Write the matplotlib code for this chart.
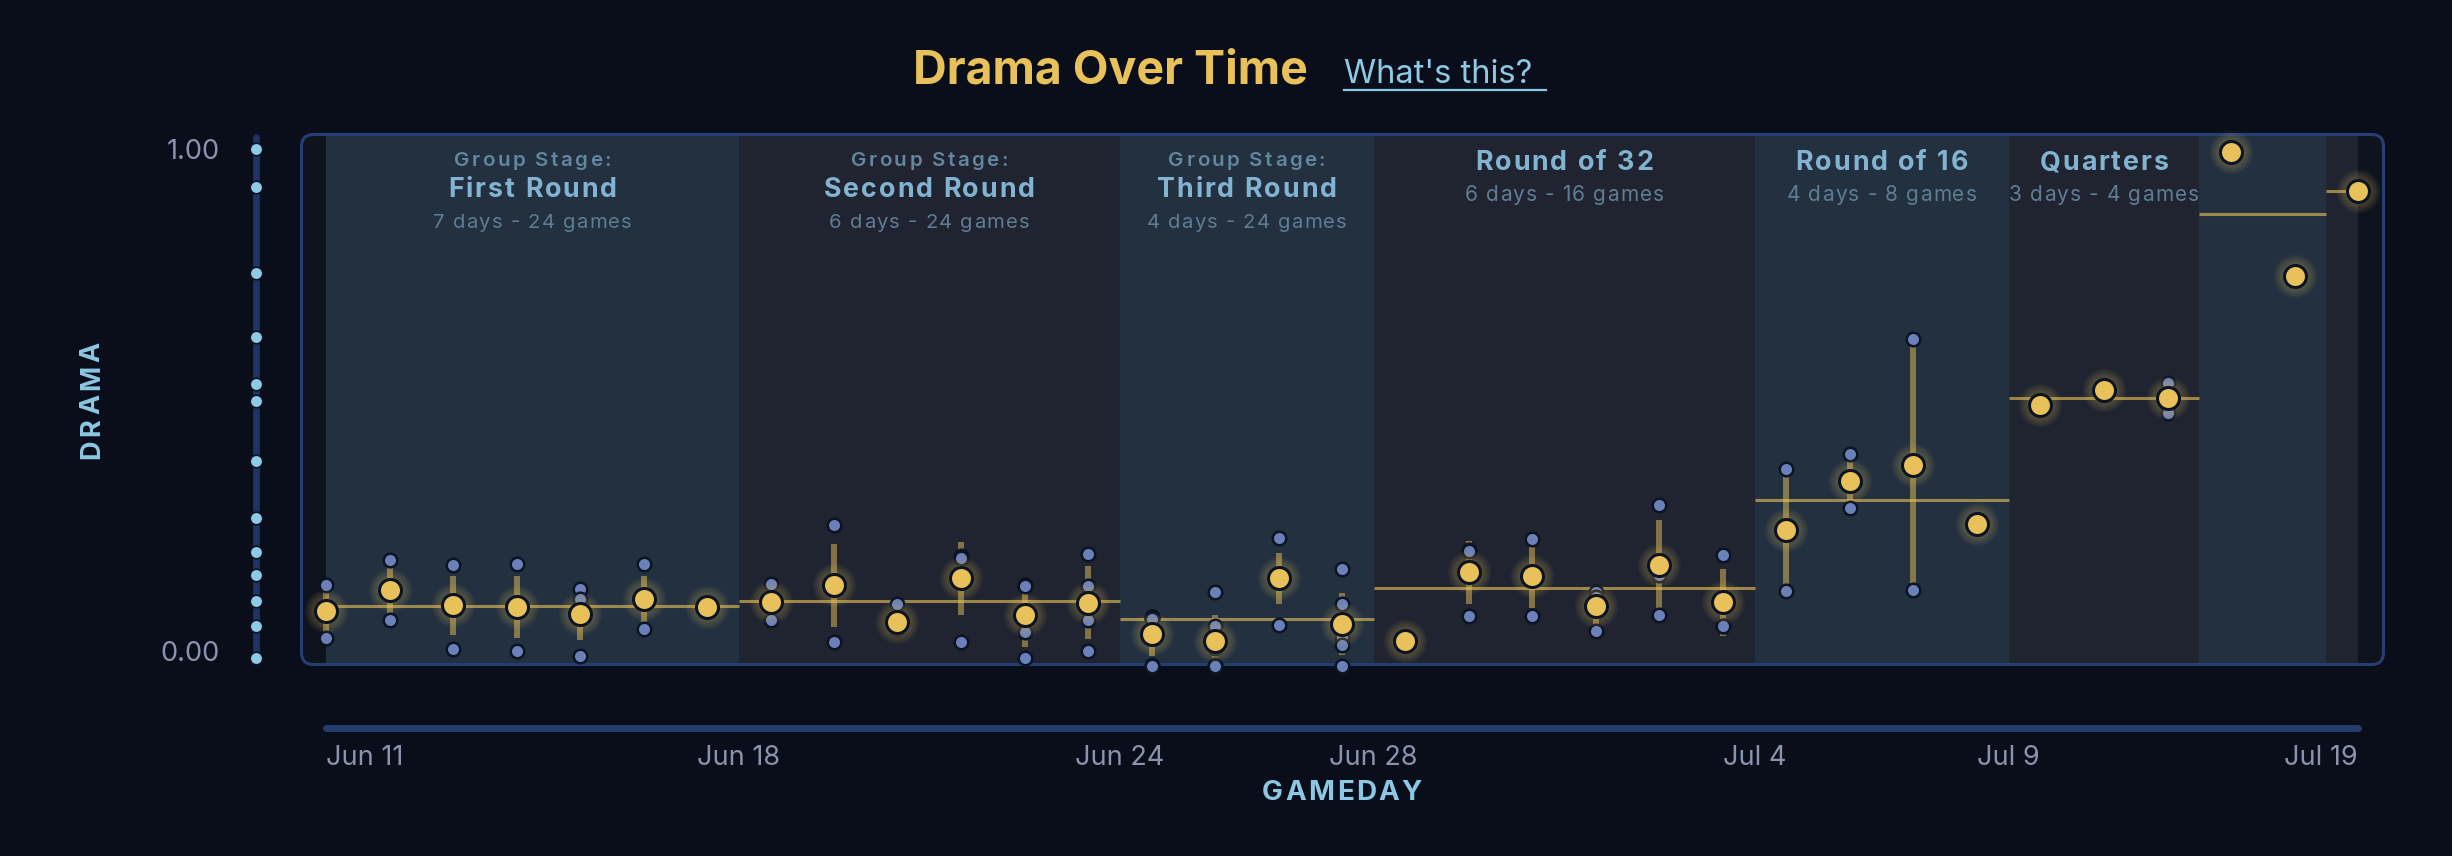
import numpy as np
import matplotlib
matplotlib.use("Agg")
import matplotlib.pyplot as plt
import matplotlib.transforms as mtransforms
from matplotlib.patches import FancyBboxPatch
from matplotlib.lines import Line2D

W, H, DPI = 2452, 856, 100

# ---------------- data ----------------
stage_kicker = ["Group Stage:", "Group Stage:", "Group Stage:", "", "", "", "", ""]
stage_title = ["First Round", "Second Round", "Third Round", "Round of 32",
               "Round of 16", "Quarters", "", ""]
stage_days = [7, 6, 4, 6, 4, 3, 2, 1]
stage_games = [24, 24, 24, 16, 8, 4, 2, 1]
stage_start_label = ["Jun 11", "Jun 18", "Jun 24", "Jun 28", "Jul 4", "Jul 9", "", ""]
final_label = "Jul 19"

# drama of every game, per gameday
day_games = [
    [0.144, 0.040],
    [0.193, 0.075],
    [0.183, 0.107, 0.108, 0.018],
    [0.186, 0.102, 0.102, 0.014],
    [0.135, 0.117, 0.088, 0.004],
    [0.185, 0.111, 0.110, 0.057],
    [0.102, 0.101, 0.101, 0.100],
    [0.146, 0.110, 0.109, 0.075],
    [0.262, 0.140, 0.139, 0.032],
    [0.1065, 0.059, 0.058, 0.058],
    [0.200, 0.198, 0.197, 0.032],
    [0.144, 0.142, 0.051, 0.000],
    [0.205, 0.142, 0.075, 0.014],
    [0.080, 0.080, 0.080, 0.078, -0.014, -0.015],
    [0.130, 0.064, 0.022, 0.020, -0.014, -0.015],
    [0.237, 0.160, 0.160, 0.160, 0.159, 0.066],
    [0.176, 0.1065, 0.070, 0.041, 0.025, -0.015],
    [0.033],
    [0.213, 0.211, 0.082],
    [0.234, 0.167, 0.082],
    [0.131, 0.121, 0.054],
    [0.301, 0.163, 0.085],
    [0.203, 0.064, 0.063],
    [0.372, 0.132],
    [0.401, 0.295],
    [0.627, 0.134],
    [0.264, 0.262],
    [0.4975],
    [0.527],
    [0.540, 0.481],
    [0.995],
    [0.752],
    [0.919],
]

y_rug = [1.000, 0.926, 0.756, 0.631, 0.538, 0.505, 0.387, 0.275,
         0.208, 0.163, 0.112, 0.063, 0.000]
y_tick_values = [1.0, 0.0]
y_tick_labels = ["1.00", "0.00"]

# ---------------- style ----------------
BG = "#090e1a"
PAD = "#0e131e"
BAND_A = "#223040"
BAND_B = "#1f2430"
BORDER = "#253f73"
AXIS = "#1e3465"
YEL = "#e8c15a"
BLUE = "#6a80b8"
DARK = "#0c1424"
RUG = "#8ecae6"
TICK = "#8a94ad"
KICK = "#6487a0"
STITLE = "#82b4d2"
SUB = "#5f7d94"
LABEL = "#8cc8e3"
FONT = ["Inter", "DejaVu Sans"]
plt.rcParams["font.family"] = FONT

fig = plt.figure(figsize=(W / DPI, H / DPI), dpi=DPI, facecolor=BG)
pix = mtransforms.Affine2D().scale(1 / W, -1 / H).translate(0, 1) + fig.transFigure
renderer = fig.canvas.get_renderer()


def text_width(s, **kw):
    t = fig.text(0, 0, s, **kw)
    w = t.get_window_extent(renderer).width
    t.remove()
    return w


def spaced_text(x, y, s, spacing, vertical=False, **kw):
    """Letter-spaced text centred on x (or on y when vertical), pixel coords."""
    total = text_width(s, **kw) + spacing * (len(s) - 1)
    for i, c in enumerate(s):
        if c == " ":
            continue
        off = text_width(s[:i + 1], **kw) - text_width(c, **kw) + spacing * i
        if vertical:
            fig.text(0, 0, c, transform=mtransforms.Affine2D().translate(x, y + total / 2 - off) + pix,
                     rotation=90, rotation_mode="anchor", ha="left", va="baseline", **kw)
        else:
            fig.text(0, 0, c, transform=mtransforms.Affine2D().translate(x - total / 2 + off, y) + pix,
                     ha="left", va="baseline", **kw)


ax = fig.add_axes([300 / W, 1 - 666 / H, (2385 - 300) / W, (666 - 133) / H])
ax.set_facecolor("none")
ax.axis("off")
n_days = len(day_games)
last = n_days - 1
ax.set_xlim(-26 / 63.5, last + 27 / 63.5)
ax.set_ylim((658.2 - 666) / 508.9, (658.2 - 133) / 508.9)

xpix = mtransforms.blended_transform_factory(ax.transData, pix)
ypix = mtransforms.blended_transform_factory(pix, ax.transData)


def data_to_px(xd):
    return ax.transData.transform((xd, 0))[0] * W / fig.bbox.width


# rounded plot box
ax.add_patch(FancyBboxPatch((301.5, 134.5), 2082, 530,
                            boxstyle="round,pad=0,rounding_size=12",
                            transform=pix, facecolor=PAD, edgecolor="none",
                            zorder=0, clip_on=False))
ax.add_patch(FancyBboxPatch((301.5, 134.5), 2082, 530,
                            boxstyle="round,pad=0,rounding_size=12",
                            transform=pix, facecolor="none", edgecolor=BORDER,
                            linewidth=2.2, zorder=3.5, clip_on=False))

# stages
starts = np.concatenate([[0], np.cumsum(stage_days)[:-1]])
for i, (st, nd) in enumerate(zip(starts, stage_days)):
    s = max(st - 0.5, 0)
    e = min(st + nd - 0.5, last)
    ax.axvspan(s, e, color=BAND_A if i % 2 == 0 else BAND_B, lw=0, zorder=1)
    games = np.concatenate([day_games[d] for d in range(st, st + nd)])
    ax.hlines(games.mean(), s, e, color=YEL, alpha=0.62, lw=2.2, zorder=2)
    cx = data_to_px((s + e) / 2)
    sub = f"{nd} days - {stage_games[i]} games"
    if stage_kicker[i]:
        spaced_text(cx, 166, stage_kicker[i], 2.4, fontsize=14.8,
                    fontweight="semibold", color=KICK)
        spaced_text(cx, 197, stage_title[i], 2.0, fontsize=19.3,
                    fontweight="bold", color=STITLE)
        spaced_text(cx, 227.5, sub, 1.25, fontsize=14.6, color=SUB)
    elif stage_title[i]:
        spaced_text(cx, 170, stage_title[i], 2.0, fontsize=19.3,
                    fontweight="bold", color=STITLE)
        spaced_text(cx, 201, sub, 1.15, fontsize=15, color=SUB)
    if stage_start_label[i]:
        if i == 0:
            ax.text(s, 765, stage_start_label[i], transform=xpix, ha="left",
                    va="baseline", fontsize=19.5, color=TICK)
        else:
            ax.text(st - 0.5, 765, stage_start_label[i], transform=xpix, ha="center",
                    va="baseline", fontsize=19.5, color=TICK)
ax.text(last, 765, final_label, transform=xpix, ha="right", va="baseline",
        fontsize=19.5, color=TICK)

# daily stats
days = np.arange(n_days)
means = np.array([np.mean(g) for g in day_games])
sds = np.array([np.std(g) for g in day_games])
ax.vlines(days, means - sds, means + sds, color=YEL, alpha=0.5, lw=4.3, zorder=3)
gx = np.concatenate([[d] * len(g) for d, g in enumerate(day_games)])
gy = np.concatenate(day_games)
ax.scatter(gx, gy, s=95, c=BLUE, edgecolors=DARK, linewidths=1.8, zorder=4, clip_on=False)
for dpx in [27, 31, 35, 39, 43]:
    ax.scatter(days, means, s=(dpx * 0.72) ** 2, c=YEL, alpha=0.06, linewidths=0,
               zorder=5, clip_on=False)
ax.scatter(days, means, s=251, c=YEL, edgecolors=DARK, linewidths=2.2, zorder=6,
           clip_on=False)

# y axis with rug
ax.add_line(Line2D([256, 256], [137, 662.5], transform=pix, lw=4.8, color=AXIS,
                   solid_capstyle="round", clip_on=False, zorder=6.5))
rug_x = np.full(len(y_rug), (256 - 326) / 63.5)
ax.scatter(rug_x, y_rug, s=82, c=RUG, edgecolors="#0a1222", linewidths=1.2,
           zorder=7, clip_on=False)
for v, lab in zip(y_tick_values, y_tick_labels):
    off = mtransforms.ScaledTranslation(0, (4 if v == 0 else -2.5) / DPI, fig.dpi_scale_trans)
    ax.text(220, v, lab, transform=ypix + off, ha="right", va="center",
            fontsize=19.5, color=TICK)

# x axis bar
ax.add_line(Line2D([0, last], [728, 728], transform=xpix, lw=5, color="#243c6e",
                   solid_capstyle="round", clip_on=False))

# axis titles
spaced_text(99, 400, "DRAMA", 3.6, vertical=True, fontsize=19.5,
            fontweight="bold", color=LABEL)
spaced_text(data_to_px(last / 2), 800, "GAMEDAY", 2.4, fontsize=20,
            fontweight="bold", color=LABEL)

# title
fig.text(913 / W, 1 - 83 / H, "Drama Over Time", ha="left", va="baseline",
         fontsize=33.5, fontweight="bold", color=YEL)
fig.text(1344 / W, 1 - 83 / H, "What's this?", ha="left", va="baseline",
         fontsize=23.5, color=RUG)
fig.add_artist(Line2D([1344, 1546], [90, 90], transform=pix, lw=1.6, color=RUG))

fig.savefig("out.png", dpi=DPI, facecolor=BG)
